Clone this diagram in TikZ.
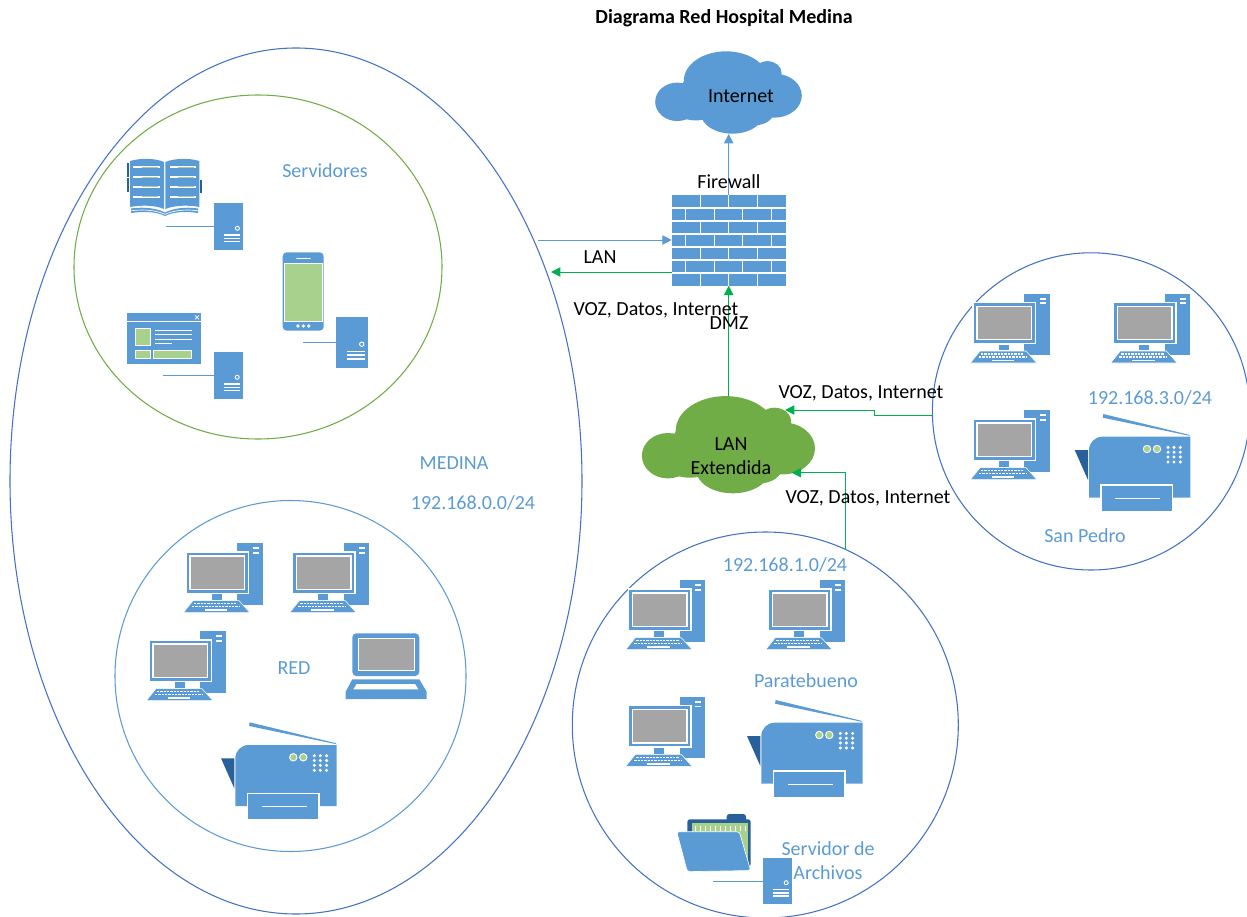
\documentclass[tikz,border=0pt]{standalone}
\usepackage{fontspec}
\setmainfont{Carlito}
\usetikzlibrary{arrows.meta}
\definecolor{iconblue}{HTML}{5B9BD5}
\definecolor{icondark}{HTML}{2A6099}
\definecolor{iconleaf}{HTML}{A9D18E}
\definecolor{screengray}{HTML}{A5A5A5}
\definecolor{cloudleaf}{HTML}{70AD47}
\definecolor{ringblue}{HTML}{4472C4}
\definecolor{linkgreen}{HTML}{00B050}
\tikzset{
    txt/.style={font=\fontsize{15}{18}\selectfont,inner sep=0pt},
    bluetxt/.style={txt,text=iconblue},
    bluelink/.style={iconblue,line width=0.75pt,-{Triangle[length=7pt,width=7pt]}},
    greenlink/.style={linkgreen,line width=0.75pt,-{Triangle[length=7pt,width=7pt]}},
    wire/.style={iconblue,line width=0.8pt},
    brick/.style={white,line width=0.8pt},
    boxonly/.style={inner sep=0pt,outer sep=0pt},
    towerbody/.style={boxonly,fill=iconblue,minimum width=21.75pt,minimum height=35pt,transform shape},
    tower/.pic={
        \node[towerbody] (-body) at (14.5,23.35) {};
        \draw[white,line width=0.7pt] (23.7,25) circle (2);
        \foreach \ly in {31.7,35,38.3}
            \draw[white,line width=1.2pt] (10.7,\ly) -- (26.3,\ly);
    },
    desktop/.pic={
        \fill[iconblue] (51.3,-8.7) rectangle (76.7,52.7);
        \fill[white] (66.7,-4.7) rectangle (72.7,-2.7);
        \fill[white] (66.7,0) rectangle (72.7,1.7);
        \filldraw[fill=iconblue,draw=white,line width=1pt] (0,0) rectangle (62.7,41.3);
        \filldraw[fill=screengray,draw=white,line width=0.8pt] (4,4) rectangle (58.7,37.3);
        \fill[iconblue] (25.7,42.3) rectangle (35.7,48);
        \filldraw[fill=iconblue,draw=white,line width=0.4pt] (7,48.7) -- (53,48.7) -- (64,60.7) -- (-2.7,60.7) -- cycle;
        \draw[white,line width=1pt,dash pattern=on 1.8pt off 0.7pt] (8,51.6) -- (51,51.6);
        \draw[white,line width=1pt,dash pattern=on 1.8pt off 0.7pt] (6,54.8) -- (54,54.8);
        \draw[white,line width=1.2pt] (19,58) -- (41.3,58);
    },
    printer/.pic={
        \fill[iconblue] (14.3,-22.7) -- (101,-1.7) -- (100,-1) -- (13.8,-19) -- cycle;
        \fill[icondark] (-14.3,13.3) -- (-1,13.3) -- (-1,43.3) -- cycle;
        \fill[iconblue] (0,61) [rounded corners=10pt] -- (0,0) [sharp corners] -- (101.3,0) -- (101.3,61) -- cycle;
        \filldraw[fill=iconblue,draw=white,line width=0.8pt] (12,48.3) rectangle (83.7,75);
        \draw[white,line width=0.7pt] (26.3,61.7) -- (71.3,61.7);
        \filldraw[fill=iconleaf,draw=white,line width=0.7pt] (58,12.3) circle (3.7);
        \filldraw[fill=iconleaf,draw=white,line width=0.7pt] (68,12.3) circle (3.7);
        \foreach \dx in {79,85,91.3}
            \foreach \dy in {10.7,15.5,20.3,25.3}
                \fill[white] (\dx,\dy) circle (1.7);
    },
    lumpcloud/.pic={
        \fill[#1] (-60.8,11) ellipse [x radius=26,y radius=22.7];
        \fill[#1] (-3,-14) ellipse [x radius=50,y radius=34.6];
        \fill[#1] (54,3.7) ellipse [x radius=32.3,y radius=26];
        \fill[#1] (45.8,-23) ellipse [x radius=16.7,y radius=14];
        \fill[#1] (4.2,25.3) ellipse [x radius=36.7,y radius=23.3];
        \fill[#1] (-39,15) ellipse [x radius=28,y radius=18];
        \fill[#1] (30.8,22) ellipse [x radius=23,y radius=16.7];
        \fill[#1] (-38,-7) ellipse [x radius=17,y radius=13];
        \fill[#1] (0,2) ellipse [x radius=60,y radius=30];
    },
}
\begin{document}
\begin{tikzpicture}[x=0.75pt,y=-0.75pt]
        \useasboundingbox (0,0) rectangle (1247,917);

        %zonas
        \draw[ringblue,line width=0.8pt] (296,481) ellipse [x radius=286,y radius=433];
        \draw[cloudleaf,line width=0.8pt] (258,267) ellipse [x radius=184,y radius=172];
        \draw[iconblue,line width=0.8pt] (290.5,676) circle (175.5);
        \draw[ringblue,line width=0.8pt] (765.3,725) circle (193);
        \draw[ringblue,line width=0.8pt] (1091,411.4) circle (158.6);

        %nube internet y firewall
        \pic[scale=0.847] at (728.7,92.5) {lumpcloud=iconblue};
        \node[boxonly,minimum width=110pt,minimum height=62.25pt] (internet) at (728.7,92.5) {};
        \pic at (728.7,444.7) {lumpcloud=cloudleaf};
        \node[boxonly,minimum width=130pt,minimum height=73pt] (lanext) at (728.7,444.7) {};
        \node[boxonly,fill=iconblue,minimum width=85.5pt,minimum height=68pt] (firewall) at (728.7,240.35) {};
        \foreach \ly in {208,221,234,247,260,273}
            \draw[brick] (671.7,\ly) -- (785.7,\ly);
        \foreach \ry in {195,221,247,273}
            \foreach \bx in {700.3,728.7,757.3}
                \draw[brick] (\bx,\ry) -- (\bx,\ry+13);
        \foreach \ry in {208,234,260}
            \foreach \bx in {685.7,714.3,742.7,771.3}
                \draw[brick] (\bx,\ry) -- (\bx,\ry+13);

        %libro
        \fill[icondark] (127.3,163.3) rectangle (129.3,176.7);
        \fill[icondark] (127.3,178.3) rectangle (129.3,191.7);
        \fill[icondark] (200,180) rectangle (202,192.7);
        \fill[iconblue] (130,161) .. controls (140,158) and (155,158) .. (164,162) -- (164,209) .. controls (155,205) and (140,205) .. (130,207) -- cycle;
        \fill[iconblue] (165.3,162) .. controls (175,158) and (190,158) .. (199.3,161) -- (199.3,207) .. controls (190,205) and (175,205) .. (165.3,209) -- cycle;
        \fill[iconblue] (131,208.5) .. controls (145,206.5) and (157,208.5) .. (165,212.5) .. controls (173,208.5) and (185,206.5) .. (198,208.5) -- (198,213) .. controls (185,211) and (173,212) .. (165,216) .. controls (157,212) and (145,211) .. (131,213) -- cycle;
        \draw[white,line width=0.5pt] (131,210.8) .. controls (145,208.8) and (157,210.8) .. (165,214.3) .. controls (173,210.8) and (185,208.8) .. (198,210.8);
        \foreach \ly in {167.3,177,186.7,196.7} {
            \draw[white,line width=1.5pt] (133.3,\ly) -- (160,\ly);
            \draw[white,line width=1.5pt] (170,\ly) -- (196,\ly);
            \draw[iconleaf,line width=0.6pt] (142,\ly) -- (158,\ly);
            \draw[iconleaf,line width=0.6pt] (178,\ly) -- (194,\ly);
        }

        %ventana
        \fill[iconblue] (127.3,313.3) rectangle (200.7,364);
        \draw[white,line width=0.6pt] (127.3,321.7) -- (200.7,321.7);
        \draw[white,line width=0.5pt] (195,315.3) -- (199,319.3) (199,315.3) -- (195,319.3);
        \filldraw[fill=iconleaf,draw=white,line width=0.7pt] (135.3,328.7) rectangle (150.7,345.3);
        \filldraw[fill=iconleaf,draw=white,line width=0.7pt] (135.3,350) rectangle (150.7,358);
        \filldraw[fill=iconleaf,draw=white,line width=0.7pt] (153.7,350) rectangle (191.7,358);
        \foreach \ly in {330.3,334.7,339}
            \draw[white,line width=0.7pt] (155,\ly) -- (192.3,\ly);
        \draw[white,line width=0.7pt] (155,343.7) -- (171.7,343.7);

        %telefono
        \fill[iconblue,rounded corners=3pt] (282.7,252.3) rectangle (323.7,330.7);
        \filldraw[fill=iconleaf,draw=white,line width=0.6pt] (284.3,263.3) rectangle (322.3,321);
        \draw[white,line width=1.2pt,line cap=round] (297,258.3) -- (310,258.3);
        \foreach \dx in {298,303.3,308.7}
            \fill[white] (\dx,326) circle (1.8);

        %carpeta
        \fill[icondark,rounded corners=2pt] (726.7,814) rectangle (746,824);
        \fill[icondark,rounded corners=2pt] (687.3,819.3) rectangle (750.7,866.7);
        \fill[iconleaf] (691.7,823.3) rectangle (747.7,866);
        \foreach \bx in {695,700,...,745}
            \draw[white,line width=0.7pt] (\bx,826) -- (\bx,831);
        \filldraw[fill=iconblue,draw=white,line width=0.5pt,rounded corners=2pt] (676.7,831.7) -- (739.3,831.7) -- (750.7,870.5) -- (687.3,871.7) -- cycle;

        %servidores
        \pic (srvbook) at (213.7,203.3) {tower};
        \pic (srvwindow) at (213.5,352.3) {tower};
        \pic[scale=1.1] (srvphone) at (335.7,316.7) {tower};
        \pic (srvfiles) at (762.5,857.7) {tower};
        \coordinate (bookend) at (166,227.3);
        \coordinate (windowend) at (162.7,376.7);
        \coordinate (phoneend) at (303.3,343.3);
        \coordinate (filesend) at (713.3,882.3);
        \draw[wire] (srvbook-body.west) -- (srvbook-body.west -| bookend);
        \draw[wire] (srvwindow-body.west) -- (srvwindow-body.west -| windowend);
        \draw[wire] (srvphone-body.west) -- (srvphone-body.west -| phoneend);
        \draw[wire] (srvfiles-body.west) -- (srvfiles-body.west -| filesend);

        %equipos
        \pic at (186,552) {desktop};
        \pic at (292.3,552) {desktop};
        \pic at (149,640) {desktop};
        \pic at (628.3,589) {desktop};
        \pic at (768.3,589) {desktop};
        \pic at (628.3,705.7) {desktop};
        \pic at (973,302.3) {desktop};
        \pic at (1113.3,302.3) {desktop};
        \pic at (973,419) {desktop};
        \pic at (235.3,745) {printer};
        \pic at (761.3,722.7) {printer};
        \pic at (1089,436.7) {printer};

        %portatil
        \fill[iconblue,rounded corners=3pt] (352.3,633.3) rectangle (419.3,676);
        \filldraw[fill=screengray,draw=white,line width=0.7pt] (358,638.7) rectangle (414,670);
        \fill[iconblue] (352.3,679.3) -- (419.3,679.3) -- (426.7,691.7) -- (426.7,699) -- (345.7,699) -- (345.7,691.7) -- cycle;
        \fill[white] (356.7,684) -- (415,684) -- (418.3,689.3) -- (353.3,689.3) -- cycle;

        %enlaces
        \coordinate (medinaout) at (538,240);
        \coordinate (medinain) at (551,272);
        \coordinate (sanpedroout) at (933.3,415.5);
        \coordinate (lanupper) at (785,410);
        \coordinate (paraout) at (845.5,550);
        \coordinate (lanlower) at (791.7,472.7);
        \draw[bluelink] (firewall.north) -- (internet.south);
        \draw[bluelink] (medinaout) -- (medinaout -| firewall.west);
        \draw[greenlink] (medinain -| firewall.west) -- (medinain);
        \draw[greenlink] (lanext.north) -- (firewall.south);
        \draw[greenlink] (sanpedroout) -- (874.7,415.5) -- (874.7,410) -- (lanupper);
        \draw[greenlink] (paraout) |- (lanlower);

        %textos
        \node[txt,font=\fontsize{15}{18}\selectfont\bfseries] (titulo) at (724,18) {Diagrama Red Hospital Medina};
        \node[txt] (internetlabel) at (741,96) {Internet};
        \node[txt] (firewalllabel) at (729,182) {Firewall};
        \node[txt] (lanlabel) at (600,257) {LAN};
        \node[txt] (vozmedina) at (656,310) {VOZ, Datos, Internet};
        \node[txt] (dmz) at (729,323) {DMZ};
        \node[txt] (vozpedro) at (861,393) {VOZ, Datos, Internet};
        \node[txt] (vozpara) at (868,498) {VOZ, Datos, Internet};
        \node[txt] (lanone) at (731,444) {LAN};
        \node[txt] (lantwo) at (731,468) {Extendida};
        \node[bluetxt] (servidores) at (325,171) {Servidores};
        \node[bluetxt] (medina) at (454,463) {MEDINA};
        \node[bluetxt] (redmedina) at (473,503) {192.168.0.0/24};
        \node[bluetxt] (redlabel) at (294,668) {RED};
        \node[bluetxt] (redpara) at (785,565) {192.168.1.0/24};
        \node[bluetxt] (paratebueno) at (806,681) {Paratebueno};
        \node[bluetxt] (servidorde) at (828,849) {Servidor de};
        \node[bluetxt] (archivos) at (828,873) {Archivos};
        \node[bluetxt] (redpedro) at (1150,398) {192.168.3.0/24};
        \node[bluetxt] (sanpedro) at (1085,536) {San Pedro};
\end{tikzpicture}
\end{document}
